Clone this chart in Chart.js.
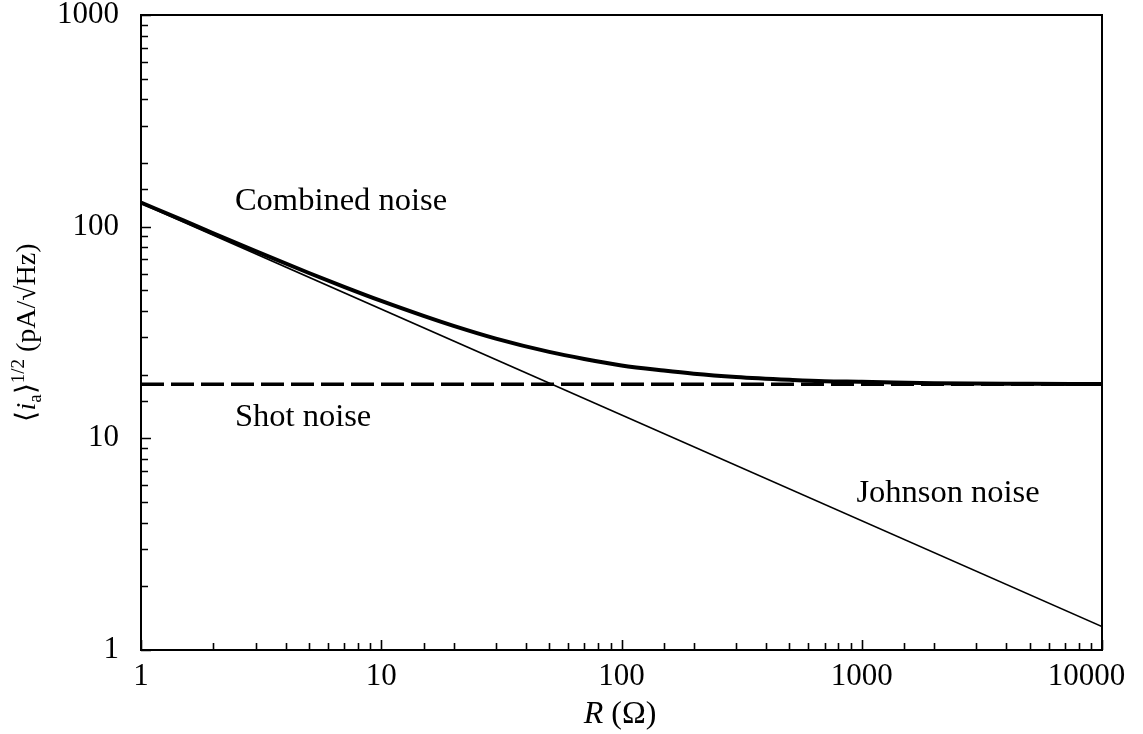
<!DOCTYPE html>
<html>
<head>
<meta charset="utf-8">
<script src="https://cdn.jsdelivr.net/npm/chart.js@4.4.0/dist/chart.umd.min.js"></script>
<style>
  html, body { margin: 0; padding: 0; background: #fff; }
  #wrap { width: 1143px; height: 734px; }
</style>
</head>
<body>
<div id="wrap"><canvas id="noiseChart"></canvas></div>
<script>
// values (pA/sqrt(Hz) vs R in ohms)
const resistance = [1, 1.5, 2, 3, 5, 7, 10, 15, 20, 30, 50, 70, 100, 150, 200, 300, 500, 700, 1000, 2000, 5000, 10000];
const combinedNoise = [130, 107, 93, 76.6, 60.4, 52, 44.6, 37.9, 34, 29.6, 25.6, 23.7, 22.1, 20.9, 20.2, 19.5, 18.9, 18.6, 18.5, 18.2, 18.1, 18.05];
const johnsonR = [1, 10000];
const johnsonNoise = [129, 1.29];
const shotR = [1, 10000];
const shotNoise = [18, 18];
const xTickLabels = [1, 10, 100, 1000, 10000];
const yTickLabels = [1, 10, 100, 1000];
const curveLabels = [
  { text: 'Combined noise', r: 2.46, v: 132 },
  { text: 'Shot noise', r: 2.46, v: 12.5 },
  { text: 'Johnson noise', r: 950, v: 5.46 },
];

const FONT = "'Liberation Serif', 'Times New Roman', serif";

const isDecade = (v) => Math.abs(Math.log10(v) - Math.round(Math.log10(v))) < 1e-6;
const toPoints = (xs, ys) => xs.map((x, i) => ({ x: x, y: ys[i] }));

// box, inward ticks, curve labels and axis titles
const framePlugin = {
  id: 'frame',
  afterDraw(chart) {
    const { ctx, chartArea: a, scales: { x, y } } = chart;
    ctx.save();
    ctx.strokeStyle = '#000';
    ctx.lineWidth = 2;
    ctx.strokeRect(a.left, a.top, a.right - a.left, a.bottom - a.top);

    ctx.lineWidth = 1.6;
    ctx.beginPath();
    x.ticks.forEach(t => {
      const px = Math.round(x.getPixelForValue(t.value)) + 0.5;
      const len = isDecade(t.value) ? 10 : 7;
      ctx.moveTo(px, a.bottom);
      ctx.lineTo(px, a.bottom - len);
    });
    y.ticks.forEach(t => {
      const py = Math.round(y.getPixelForValue(t.value)) + 0.5;
      const len = isDecade(t.value) ? 10 : 7;
      ctx.moveTo(a.left, py);
      ctx.lineTo(a.left + len, py);
    });
    ctx.stroke();

    // curve labels
    ctx.fillStyle = '#000';
    ctx.font = '32.5px ' + FONT;
    ctx.textAlign = 'left';
    ctx.textBaseline = 'middle';
    curveLabels.forEach(l => {
      ctx.fillText(l.text, x.getPixelForValue(l.r), y.getPixelForValue(l.v));
    });

    // x title: R (Ω)
    ctx.textBaseline = 'alphabetic';
    ctx.font = 'italic 32px ' + FONT;
    const rW = ctx.measureText('R').width;
    ctx.font = '32px ' + FONT;
    const restW = ctx.measureText(' (Ω)').width;
    let sx = 620 - (rW + restW) / 2;
    ctx.font = 'italic 32px ' + FONT;
    ctx.fillText('R', sx, 723);
    ctx.font = '32px ' + FONT;
    ctx.fillText(' (Ω)', sx + rW, 723);

    // y title: <i_a>^1/2 (pA/√Hz)
    const parts = [
      { t: '⟨', f: '28px ' + FONT, dy: 0 },
      { t: 'i', f: 'italic 28px ' + FONT, dy: 0 },
      { t: 'a', f: '19px ' + FONT, dy: 6 },
      { t: '⟩', f: '28px ' + FONT, dy: 0 },
      { t: '1/2', f: '19px ' + FONT, dy: -11 },
      { t: ' (pA/√Hz)', f: '28px ' + FONT, dy: 0 },
    ];
    let total = 0;
    parts.forEach(p => { ctx.font = p.f; p.w = ctx.measureText(p.t).width; total += p.w; });
    ctx.translate(35, (a.top + a.bottom) / 2);
    ctx.rotate(-Math.PI / 2);
    let u = -total / 2;
    parts.forEach(p => {
      ctx.font = p.f;
      ctx.fillText(p.t, u, p.dy);
      u += p.w;
    });
    ctx.restore();
  }
};

const tickFont = { family: FONT, size: 31 };

// the last x label sits a little left of its tick, as in the figure
const xLabel = (value) => {
  if (!xTickLabels.some(v => Math.abs(v - value) < 1e-6)) return '';
  return value === 10000 ? '10000\u2002\u2002' : String(value);
};

new Chart(document.getElementById('noiseChart'), {
  type: 'line',
  data: {
    datasets: [
      {
        label: 'Johnson noise',
        data: toPoints(johnsonR, johnsonNoise),
        borderColor: '#000',
        borderWidth: 1.7,
        pointRadius: 0,
      },
      {
        label: 'Shot noise',
        data: toPoints(shotR, shotNoise),
        borderColor: '#000',
        borderWidth: 3.5,
        borderDash: [23, 7],
        pointRadius: 0,
      },
      {
        label: 'Combined noise',
        data: toPoints(resistance, combinedNoise),
        borderColor: '#000',
        borderWidth: 4,
        cubicInterpolationMode: 'monotone',
        pointRadius: 0,
      },
    ]
  },
  options: {
    responsive: true,
    maintainAspectRatio: false,
    animation: false,
    layout: { padding: { top: 15, right: 41, left: 0, bottom: 0 } },
    plugins: {
      legend: { display: false },
      tooltip: { enabled: false },
    },
    scales: {
      x: {
        type: 'logarithmic',
        min: 1,
        max: 10000,
        grid: { display: false },
        border: { display: false },
        afterFit: (scale) => {
          scale.height = 84;
          scale.paddingLeft = 0;
          scale.paddingRight = 0;
        },
        ticks: {
          autoSkip: false,
          maxRotation: 0,
          padding: 0,
          color: '#000',
          font: tickFont,
          callback: xLabel,
        },
      },
      y: {
        type: 'logarithmic',
        min: 1,
        max: 1000,
        grid: { display: false },
        border: { display: false },
        afterFit: (scale) => {
          scale.width = 141;
          scale.paddingTop = 0;
          scale.paddingBottom = 0;
        },
        ticks: {
          autoSkip: false,
          padding: 14,
          color: '#000',
          font: tickFont,
          callback: (value) => yTickLabels.some(v => Math.abs(v - value) < 1e-6) ? String(value) : '',
        },
      },
    },
  },
  plugins: [framePlugin],
});
</script>
</body>
</html>
